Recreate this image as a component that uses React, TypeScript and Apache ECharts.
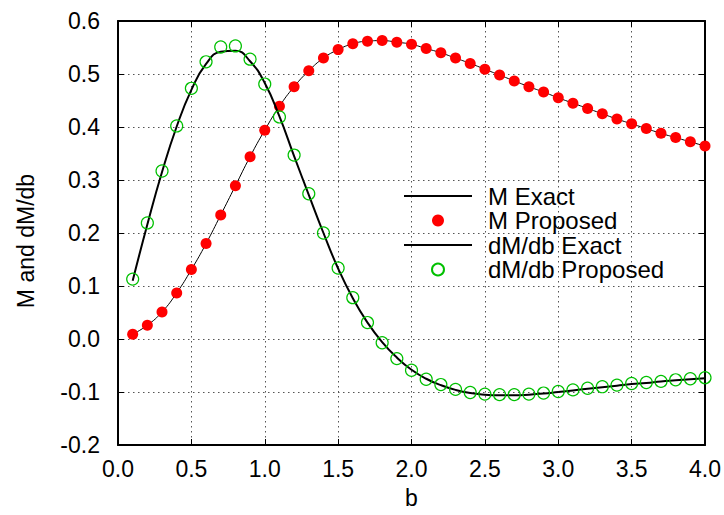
import React, { useEffect, useRef } from 'react';
import * as echarts from 'echarts';

const bValues = [0.1, 0.2, 0.3, 0.4, 0.5, 0.6, 0.7, 0.8, 0.9, 1.0, 1.1, 1.2, 1.3, 1.4, 1.5, 1.6, 1.7, 1.8, 1.9, 2.0, 2.1, 2.2, 2.3, 2.4, 2.5, 2.6, 2.7, 2.8, 2.9, 3.0, 3.1, 3.2, 3.3, 3.4, 3.5, 3.6, 3.7, 3.8, 3.9, 4.0];

const mProposed = [0.009, 0.026, 0.051, 0.087, 0.131, 0.180, 0.234, 0.289, 0.344, 0.394, 0.439, 0.476, 0.506, 0.530, 0.546, 0.557, 0.562, 0.563, 0.560, 0.556, 0.548, 0.540, 0.530, 0.520, 0.509, 0.498, 0.487, 0.476, 0.466, 0.455, 0.445, 0.435, 0.425, 0.415, 0.406, 0.397, 0.388, 0.380, 0.372, 0.364];

const mExact = [0.009, 0.026, 0.051, 0.087, 0.131, 0.180, 0.234, 0.289, 0.344, 0.394, 0.439, 0.476, 0.506, 0.530, 0.546, 0.557, 0.562, 0.563, 0.560, 0.556, 0.548, 0.540, 0.530, 0.520, 0.509, 0.498, 0.487, 0.476, 0.466, 0.455, 0.445, 0.435, 0.425, 0.415, 0.406, 0.397, 0.388, 0.380, 0.372, 0.364];

const dmProposed = [0.113, 0.219, 0.317, 0.402, 0.473, 0.523, 0.551, 0.553, 0.528, 0.481, 0.419, 0.347, 0.274, 0.200, 0.134, 0.078, 0.031, -0.007, -0.037, -0.059, -0.076, -0.086, -0.095, -0.101, -0.104, -0.105, -0.105, -0.104, -0.102, -0.099, -0.096, -0.093, -0.090, -0.087, -0.084, -0.082, -0.080, -0.077, -0.075, -0.073];

const dmExact = [0.110, 0.216, 0.315, 0.401, 0.470, 0.519, 0.542, 0.544, 0.524, 0.483, 0.420, 0.345, 0.272, 0.200, 0.133, 0.077, 0.031, -0.006, -0.035, -0.058, -0.075, -0.087, -0.096, -0.102, -0.105, -0.106, -0.106, -0.105, -0.103, -0.100, -0.097, -0.094, -0.091, -0.088, -0.085, -0.083, -0.080, -0.078, -0.076, -0.074];

const seriesNames = ['M Exact', 'M Proposed', 'dM/db Exact', 'dM/db Proposed'];
const xAxisTitle = 'b';
const yAxisTitle = 'M and dM/db';

const FONT = "'Liberation Sans', Arial, sans-serif";

function pairs(ys: number[]) {
  return bValues.map((b, i) => [b, ys[i]]);
}

export default function App() {
  const ref = useRef<HTMLDivElement>(null);
  useEffect(() => {
    if (!ref.current) return;
    const chart = echarts.init(ref.current, null, { renderer: 'svg' });
    const fmt = (v: number) => (Math.abs(v) < 1e-9 ? '0.0' : v.toFixed(1));
    const axisLine = { show: true, onZero: false, lineStyle: { color: '#000', width: 2 } };
    const tick = { show: true, inside: true, length: 6, lineStyle: { color: '#000', width: 1 } };
    const split = { show: true, lineStyle: { color: '#555', type: [1.5, 3.5], width: 1 } };
    chart.setOption({
      animation: false,
      backgroundColor: '#fff',
      textStyle: { fontFamily: FONT },
      grid: { left: 118, right: 18, top: 21, bottom: 70, containLabel: false },
      legend: {
        orient: 'vertical',
        left: 403,
        top: 184,
        padding: 0,
        itemWidth: 68,
        itemHeight: 12,
        itemGap: 0.5,
        textStyle: { fontSize: 24, color: '#000', fontFamily: FONT, padding: [0, 0, 0, 11], lineHeight: 24 },
        data: [
          { name: seriesNames[0], itemStyle: { opacity: 0 } },
          { name: seriesNames[1] },
          { name: seriesNames[2], itemStyle: { opacity: 0 } },
          { name: seriesNames[3] },
        ],
      },
      graphic: [
        {
          type: 'text', x: 26, y: 241, rotation: Math.PI / 2,
          style: { text: yAxisTitle, fontSize: 23, fontFamily: FONT, fill: '#000', align: 'center', verticalAlign: 'middle' },
        },
      ],
      xAxis: [
        {
          type: 'value', min: 0, max: 4, interval: 0.5, position: 'bottom',
          name: xAxisTitle, nameLocation: 'middle', nameGap: 41,
          nameTextStyle: { fontSize: 23, color: '#000', fontFamily: FONT },
          axisLine, axisTick: tick,
          axisLabel: { formatter: fmt, fontSize: 23, color: '#000', margin: 12, fontFamily: FONT },
          splitLine: split,
        },
        {
          type: 'value', min: 0, max: 4, interval: 0.5, position: 'top',
          axisLine, axisTick: tick, axisLabel: { show: false }, splitLine: { show: false },
        },
      ],
      yAxis: [
        {
          type: 'value', min: -0.2, max: 0.6, interval: 0.1, position: 'left',
          axisLine, axisTick: tick,
          axisLabel: { formatter: fmt, fontSize: 23, color: '#000', margin: 18, fontFamily: FONT },
          splitLine: split,
        },
        {
          type: 'value', min: -0.2, max: 0.6, interval: 0.1, position: 'right',
          axisLine, axisTick: tick, axisLabel: { show: false }, splitLine: { show: false },
        },
      ],
      series: [
        {
          name: seriesNames[0], type: 'line', data: pairs(mExact), smooth: true,
          symbol: 'none', showSymbol: false,
          lineStyle: { color: '#000', width: 1 }, itemStyle: { color: '#000' },
          z: 2,
        },
        {
          name: seriesNames[1], type: 'scatter', data: pairs(mProposed),
          symbol: 'circle', symbolSize: 11,
          itemStyle: { color: '#ff0000', opacity: 1 },
          z: 3,
        },
        {
          name: seriesNames[2], type: 'line', data: pairs(dmExact), smooth: true,
          symbol: 'none', showSymbol: false,
          lineStyle: { color: '#000', width: 2 }, itemStyle: { color: '#000' },
          z: 4,
        },
        {
          name: seriesNames[3], type: 'scatter', data: pairs(dmProposed),
          symbol: 'circle', symbolSize: 12,
          itemStyle: { color: 'rgba(0,0,0,0)', borderColor: '#00c000', borderWidth: 1.2, opacity: 1 },
          z: 5,
        },
      ],
    });
    return () => chart.dispose();
  }, []);
  return <div ref={ref} style={{ position: 'absolute', left: 0, top: 0, width: 724, height: 515 }} />;
}
